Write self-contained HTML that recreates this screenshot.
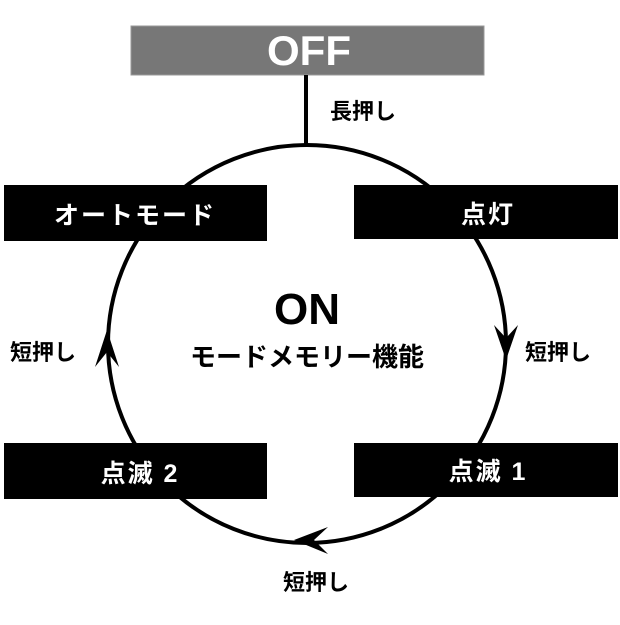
<!DOCTYPE html>
<html><head><meta charset="utf-8"><style>
body{margin:0;background:#fff;width:620px;height:620px;overflow:hidden}
text{font-family:"Liberation Sans","Noto Sans CJK JP",sans-serif;font-weight:bold}
</style></head><body>
<svg width="620" height="620" viewBox="0 0 620 620">
<rect x="131" y="26" width="353" height="49" fill="#777" stroke="#999" stroke-width="1"/>
<text x="309" y="65" font-size="42" fill="#fff" text-anchor="middle" font-weight="900">OFF</text>
<line x1="306" y1="75" x2="306" y2="146" stroke="#000" stroke-width="4"/>
<text x="330" y="119" font-size="22" fill="#000">長押し</text>
<circle cx="307" cy="344" r="199" fill="none" stroke="#000" stroke-width="4"/>
<rect x="4" y="185" width="263" height="56" fill="#000"/>
<rect x="354" y="185" width="264" height="54" fill="#000"/>
<rect x="4" y="443" width="263" height="56" fill="#000"/>
<rect x="354" y="443" width="264" height="54" fill="#000"/>
<text x="135" y="224" font-size="25" fill="#fff" text-anchor="middle" letter-spacing="2">オートモード</text>
<text x="488" y="223" font-size="25" fill="#fff" text-anchor="middle" letter-spacing="2">点灯</text>
<text x="140" y="482" font-size="25" fill="#fff" text-anchor="middle" letter-spacing="2">点滅 2</text>
<text x="488" y="480" font-size="25" fill="#fff" text-anchor="middle" letter-spacing="2">点滅 1</text>
<text x="307" y="324" font-size="44" fill="#000" text-anchor="middle" font-weight="900">ON</text>
<text x="307" y="366" font-size="26" fill="#000" text-anchor="middle">モードメモリー機能</text>
<text x="10" y="360" font-size="22" fill="#000">短押し</text>
<text x="525" y="360" font-size="22" fill="#000">短押し</text>
<text x="283" y="590" font-size="22" fill="#000">短押し</text>
<polygon points="494,325 506,338 518,325 506,360" fill="#000"/>
<polygon points="95,367 107,352 119,367 107,330" fill="#000"/>
<polygon points="328,527 314,540 328,554 294,540" fill="#000"/>
</svg>
</body></html>
